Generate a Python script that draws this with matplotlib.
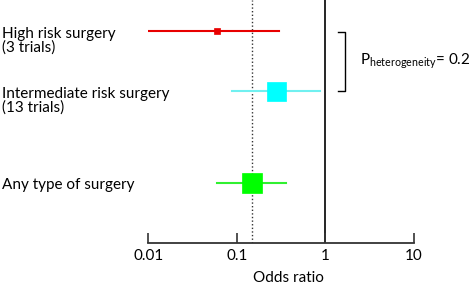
import matplotlib
matplotlib.use("Agg")
import matplotlib.pyplot as plt

plt.rcParams['font.family'] = ['Lato', 'DejaVu Sans']
plt.rcParams['mathtext.fontset'] = 'custom'
plt.rcParams['mathtext.rm'] = 'Lato'
plt.rcParams['mathtext.it'] = 'Lato:italic'

# ---- data ----
labels = ["High risk surgery\n(3 trials)",
          "Intermediate risk surgery\n(13 trials)",
          "Any type of surgery"]
odds_ratio = [0.060, 0.28, 0.15]
ci_low = [0.010, 0.089, 0.060]
ci_high = [0.30, 0.86, 0.36]
pooled_or = 0.15
tick_values = [0.01, 0.1, 1, 10]
tick_labels = ["0.01", "0.1", "1", "10"]
p_text = r"P$_{\mathrm{heterogeneity}}$= 0.2"

# ---- style / layout ----
colors = ["#E80000", "#00FFFF", "#00FF00"]
line_colors = ["#E80000", "#70F0F0", "#30F030"]
marker_px = [6, 19, 20]
row_y = [31.3, 91.3, 182.7]  # pixel rows
FS = 11

W, H = 476, 286
fig = plt.figure(figsize=(W / 100, H / 100), dpi=100)
x_left, x_right, y_axis = 148.3, 414.0, 243.0
ax = fig.add_axes([x_left / W, (H - y_axis) / H, (x_right - x_left) / W, y_axis / H])
ax.set_xscale('log')
ax.set_xlim(0.01, 10)
ax.set_ylim(y_axis, 0)

for s in ['top', 'left', 'right']:
    ax.spines[s].set_visible(False)
ax.spines['bottom'].set_color('#333333')
ax.spines['bottom'].set_linewidth(1.3)
ax.set_yticks([])
ax.set_xticks(tick_values)
ax.set_xticklabels(tick_labels)
ax.minorticks_off()
ax.tick_params(axis='x', direction='in', length=7, width=1.2, color='#333333',
               labelsize=FS, pad=4)

ax.axvline(1, color='black', lw=1.2, zorder=1)
ax.axvline(pooled_or, color='#333333', lw=1.0, ls=(0, (1, 1.6)), zorder=1)

for i in range(len(labels)):
    ax.plot([ci_low[i], ci_high[i]], [row_y[i], row_y[i]], color=line_colors[i], lw=1.5, zorder=2)
    ax.plot([odds_ratio[i]], [row_y[i]], marker='s', ls='none',
            markersize=marker_px[i] * 0.72, color=colors[i], mec=colors[i], mew=0.5, zorder=3)
    for j, line in enumerate(labels[i].split("\n")):
        fig.text(2 / W, 1 - (row_y[i] + 6.7 + 13.5 * j) / H, line, fontsize=FS,
                 ha='left', va='baseline')

# bracket
bx = [1.39, 1.65, 1.65, 1.39]
by = [row_y[0] + 1, row_y[0] + 1, row_y[1], row_y[1]]
ax.plot(bx, by, color='black', lw=1.0)

fig.text(360 / W, 1 - 65 / H, p_text, fontsize=FS, ha='left', va='baseline')
fig.text(288 / W, 1 - 282 / H, "Odds ratio", fontsize=FS, ha='center', va='baseline')

fig.savefig("out.png", dpi=100)
